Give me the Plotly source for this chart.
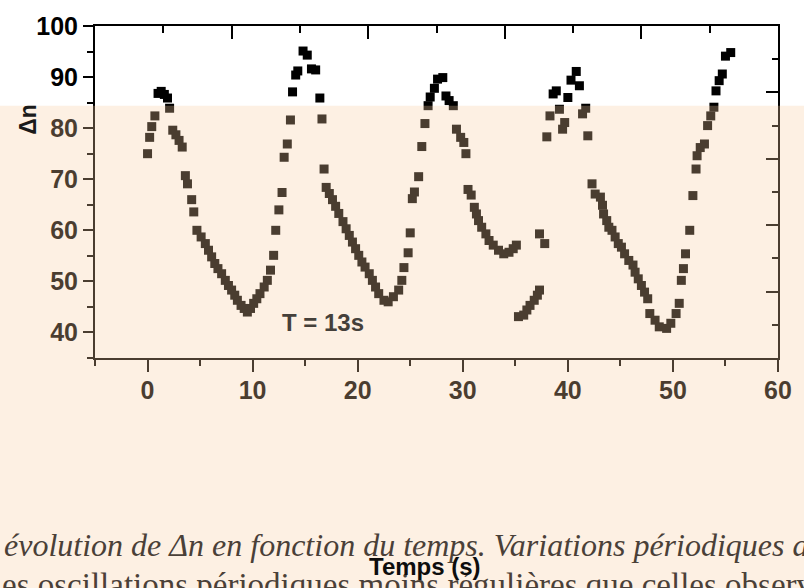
import plotly.graph_objects as go

# Time (s) and Δn values
temps = [0.0, 0.2, 0.4, 0.7, 1.0, 1.3, 1.6, 1.9, 2.1, 2.4, 2.7, 3.0, 3.3, 3.6, 3.8, 4.2, 4.4, 4.7,
         5.1, 5.5, 5.8, 6.1, 6.4, 6.7, 7.05, 7.4, 7.7, 8.0, 8.3, 8.55, 8.9, 9.2, 9.5,
         9.8, 10.1, 10.4, 10.7, 11.1, 11.4, 11.7, 12.0, 12.2, 12.5, 12.8,
         13.0, 13.3, 13.6, 13.8, 14.1, 14.3, 14.8, 15.2, 15.6, 16.0, 16.4, 16.6, 16.8,
         17.0, 17.3, 17.6, 17.9, 18.2, 18.6, 18.9, 19.2, 19.5, 19.8, 20.1, 20.4, 20.7, 21.1,
         21.4, 21.7, 22.0, 22.5, 22.9, 23.4, 23.9, 24.2, 24.4, 24.8, 25.0, 25.2, 25.4, 25.8,
         26.1, 26.4, 26.7, 26.9, 27.3, 27.6, 28.1, 28.4, 28.7, 29.1, 29.4, 29.8, 30.1, 30.3,
         30.5, 30.8, 31.1, 31.3, 31.5, 31.8, 32.2, 32.5, 32.9, 33.4, 33.9, 34.4, 34.8, 35.1,
         35.3, 35.8, 36.1, 36.4, 36.8, 37.1, 37.3, 37.3, 37.8,
         38.0, 38.3, 38.6, 38.9, 39.2, 39.5, 39.7, 40.0, 40.3, 40.8, 41.1, 41.4, 41.7, 41.9,
         42.3, 42.6, 43.1, 43.3, 43.4, 43.7, 43.9, 44.2, 44.5, 44.8, 45.1, 45.4, 45.8, 46.2,
         46.4, 46.7, 47.0, 47.3, 47.6, 47.8, 48.3, 48.7, 49.4, 49.8, 50.3, 50.6,
         50.8, 51.0, 51.2, 51.6, 51.9, 52.2, 52.3, 52.6, 53.0, 53.3, 53.6, 53.9, 54.1, 54.4,
         54.7, 55.0, 55.5]
delta_n = [75.0, 78.2, 80.3, 82.4, 86.8, 87.2, 86.6, 85.9, 83.9, 79.6, 78.7, 77.6, 76.3, 70.7, 69.1, 66.0, 63.6, 60.0,
           58.7, 57.4, 56.1, 54.8, 53.5, 52.5, 51.5, 50.2, 49.2, 48.3, 47.3, 46.3, 45.3, 44.7, 44.0,
           44.7, 45.7, 46.6, 47.6, 48.9, 50.2, 52.2, 55.1, 60.0, 64.0, 67.4,
           74.3, 76.9, 81.6, 87.1, 90.4, 91.2, 95.1, 94.3, 91.6, 91.4, 85.9, 81.8, 72.0,
           68.4, 67.2, 66.0, 64.7, 63.3, 61.7, 60.3, 59.0, 57.7, 56.4, 55.1, 53.8, 52.8, 51.5,
           50.2, 48.9, 47.6, 46.3, 46.0, 47.0, 48.3, 50.2, 52.7, 55.6, 59.5, 66.2, 67.5, 70.5,
           76.4, 80.9, 84.4, 86.1, 87.8, 89.6, 89.9, 86.3, 85.4, 84.4, 79.8, 78.2, 77.2, 75.0,
           68.0, 66.9, 64.5, 63.2, 61.9, 60.6, 59.3, 58.0, 57.1, 56.1, 55.4, 55.7, 56.4, 57.1,
           43.1, 43.4, 44.4, 45.3, 46.3, 47.3, 48.3, 59.3, 57.4,
           78.3, 82.4, 86.7, 87.3, 83.7, 79.8, 81.1, 86.0, 89.4, 91.1, 88.3, 82.8, 83.9, 78.5,
           69.1, 67.1, 66.5, 64.9, 63.2, 61.9, 60.6, 60.0, 58.7, 57.4, 56.7, 55.4, 54.1, 53.2,
           51.8, 50.5, 49.2, 47.9, 46.6, 43.7, 42.4, 41.1, 40.8, 41.8, 43.7, 45.7,
           50.2, 52.5, 55.4, 60.0, 66.8, 72.0, 74.6, 76.2, 76.9, 80.5, 82.4, 84.1, 87.3, 89.3,
           90.6, 94.1, 94.8]

x_ticks = [0, 10, 20, 30, 40, 50, 60]
x_minor = [-5, 5, 15, 25, 35, 45, 55]
y_ticks = [40, 50, 60, 70, 80, 90, 100]
y_minor = [35, 45, 55, 65, 75, 85, 95]
top_major = [8.0, 21.0, 34.0, 47.0]
top_minor = [1.5, 14.5, 27.5, 40.5, 53.5]
right_major = [48.0, 61.0, 74.0, 87.0]
right_minor = [41.5, 54.5, 67.5, 80.5, 93.5]

caption1 = "évolution de Δn en fonction du temps. Variations périodiques au cours"
caption2 = "es oscillations périodiques moins régulières que celles observées"

fig = go.Figure()
fig.add_trace(go.Scatter(x=temps, y=delta_n, mode="markers",
                         marker=dict(symbol="square", size=9, color="#000000", line=dict(width=0)),
                         showlegend=False, hoverinfo="skip"))
fig.add_trace(go.Scatter(x=[None], y=[None], xaxis="x2", yaxis="y2", showlegend=False))

tickfont = dict(family="Liberation Sans, Arial, sans-serif", size=25, color="#000000", weight="bold")

fig.update_layout(
    width=804, height=588,
    margin=dict(l=95, r=16, t=25, b=230),
    paper_bgcolor="#ffffff", plot_bgcolor="#ffffff",
    xaxis=dict(range=[-5, 60], tickvals=x_ticks, ticks="outside", ticklen=12, tickwidth=2,
               tickcolor="#000", showline=True, linewidth=2, linecolor="#000",
               showgrid=False, zeroline=False, tickfont=tickfont, ticklabelstandoff=-3,
               minor=dict(tickvals=x_minor, ticks="outside", ticklen=6, tickwidth=2, tickcolor="#000")),
    yaxis=dict(range=[35, 100], tickvals=y_ticks, ticks="outside", ticklen=10, tickwidth=2,
               tickcolor="#000", showline=True, linewidth=2, linecolor="#000",
               showgrid=False, zeroline=False, tickfont=tickfont,
               minor=dict(tickvals=y_minor, ticks="outside", ticklen=6, tickwidth=2, tickcolor="#000")),
    xaxis2=dict(range=[-5, 60], overlaying="x", side="top", anchor="y2", tickvals=top_major,
                ticks="inside", ticklen=13, tickwidth=2, tickcolor="#000", showticklabels=False,
                showline=True, linewidth=2, linecolor="#000", showgrid=False, zeroline=False,
                minor=dict(tickvals=top_minor, ticks="inside", ticklen=7, tickwidth=2, tickcolor="#000")),
    yaxis2=dict(range=[35, 100], overlaying="y", side="right", anchor="x2", tickvals=right_major,
                ticks="inside", ticklen=12, tickwidth=2, tickcolor="#000", showticklabels=False,
                showline=True, linewidth=2, linecolor="#000", showgrid=False, zeroline=False,
                minor=dict(tickvals=right_minor, ticks="inside", ticklen=6, tickwidth=2, tickcolor="#000")),
    shapes=[dict(type="rect", layer="above", xref="paper", yref="paper",
                 x0=-0.3, x1=1.2, y0=-1.0, y1=0.7598,
                 fillcolor="rgba(248,205,161,0.298)", line=dict(width=0))],
    annotations=[
        dict(text="T = 13s", x=16.7, y=41.9, xref="x", yref="y", showarrow=False,
             xanchor="center", yanchor="middle",
             font=dict(family="Liberation Sans, Arial, sans-serif", size=24, color="#45403a", weight="bold")),
        dict(text="Δn", x=-0.0981, y=0.7207, xref="paper", yref="paper", showarrow=False,
             textangle=-90, xanchor="center", yanchor="middle",
             font=dict(family="Liberation Sans, Arial, sans-serif", size=23, color="#1a1a1a", weight="bold")),
        dict(text=caption1, x=-0.1357, y=-0.563, xref="paper", yref="paper", showarrow=False,
             xanchor="left", yanchor="middle",
             font=dict(family="Liberation Serif, Times New Roman, serif", size=32, color="#4a4038", style="italic")),
        dict(text=caption2, x=-0.1385, y=-0.685, xref="paper", yref="paper", showarrow=False,
             xanchor="left", yanchor="middle",
             font=dict(family="Liberation Serif, Times New Roman, serif", size=33, color="#4a4038")),
        dict(text="Temps (s)", x=0.4834, y=-0.627, xref="paper", yref="paper", showarrow=False,
             xanchor="center", yanchor="middle",
             font=dict(family="Liberation Sans, Arial, sans-serif", size=24, color="#0d0d0d", weight="bold")),
    ],
)

fig.write_html("out.html", config={"displayModeBar": False},
               post_script="document.body.style.margin='0';document.body.style.overflow='hidden';")
